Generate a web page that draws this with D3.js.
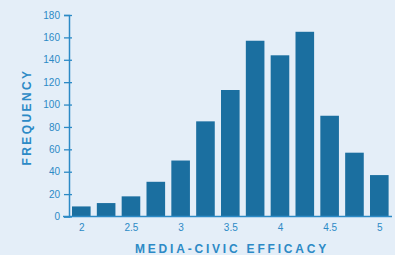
<!DOCTYPE html>
<html>
<head>
<meta charset="utf-8">
<script src="https://cdn.jsdelivr.net/npm/d3@7"></script>
<style>
  body { margin: 0; background: #e4eef8; }
  svg { display: block; }
  text { font-family: "Liberation Sans", Arial, sans-serif; }
</style>
</head>
<body>
<svg id="chart" width="395" height="255"></svg>
<script>
// histogram of media-civic efficacy scores (bins of 0.25)
var bins = [2, 2.25, 2.5, 2.75, 3, 3.25, 3.5, 3.75, 4, 4.25, 4.5, 4.75, 5];
var freq = [9, 12, 18, 31, 50, 85, 113, 157, 144, 165, 90, 57, 37];
var xTicks = [2, 2.5, 3, 3.5, 4, 4.5, 5];
var yTicks = [0, 20, 40, 60, 80, 100, 120, 140, 160, 180];

var axisColor = "#2c8ac6";
var barColor = "#1b6fa0";

var svg = d3.select("#chart");

var x = d3.scaleLinear().domain([2, 5]).range([81.3, 379.3]);
var y = d3.scaleLinear().domain([0, 180]).range([216.5, 15]);
var barW = 18.6;

// bars
svg.selectAll("rect.bar")
	.data(bins)
	.enter().append("rect")
	.attr("class", "bar")
	.attr("x", function(d) { return x(d) - barW / 2; })
	.attr("y", function(d, i) { return y(freq[i]); })
	.attr("width", barW)
	.attr("height", function(d, i) { return y(0) - y(freq[i]); })
	.attr("fill", barColor);

// baseline
svg.append("line")
	.attr("x1", 63).attr("x2", 392)
	.attr("y1", y(0)).attr("y2", y(0))
	.attr("stroke", axisColor)
	.attr("stroke-width", 1.5);

// y axis
var yAxis = svg.append("g")
	.attr("transform", "translate(69,0)")
	.call(d3.axisLeft(y).tickValues(yTicks).tickSizeOuter(0).tickSize(5).tickPadding(4));
yAxis.select(".domain").attr("stroke", axisColor).attr("stroke-width", 1.5);
yAxis.selectAll(".tick line").attr("x1", 3).attr("stroke", axisColor).attr("stroke-width", 1.3);
yAxis.selectAll(".tick text")
	.attr("fill", axisColor)
	.style("font-size", "10px")
	.style("font-family", "Liberation Sans, Arial, sans-serif");

// x axis labels
var xAxis = svg.append("g")
	.attr("transform", "translate(0," + y(0) + ")")
	.call(d3.axisBottom(x).tickValues(xTicks).tickSize(0).tickPadding(7)
		.tickFormat(function(d) { return d; }));
xAxis.select(".domain").remove();
xAxis.selectAll(".tick text")
	.attr("fill", axisColor)
	.style("font-size", "10px")
	.style("font-family", "Liberation Sans, Arial, sans-serif");

// axis titles
svg.append("text")
	.attr("x", 232)
	.attr("y", 253)
	.attr("text-anchor", "middle")
	.attr("fill", axisColor)
	.style("font-size", "12px")
	.style("font-weight", "bold")
	.style("letter-spacing", "2.8px")
	.text("MEDIA-CIVIC EFFICACY");

svg.append("text")
	.attr("transform", "translate(31,117) rotate(-90)")
	.attr("text-anchor", "middle")
	.attr("fill", axisColor)
	.style("font-size", "12px")
	.style("font-weight", "bold")
	.style("letter-spacing", "2.4px")
	.text("FREQUENCY");
</script>
</body>
</html>
